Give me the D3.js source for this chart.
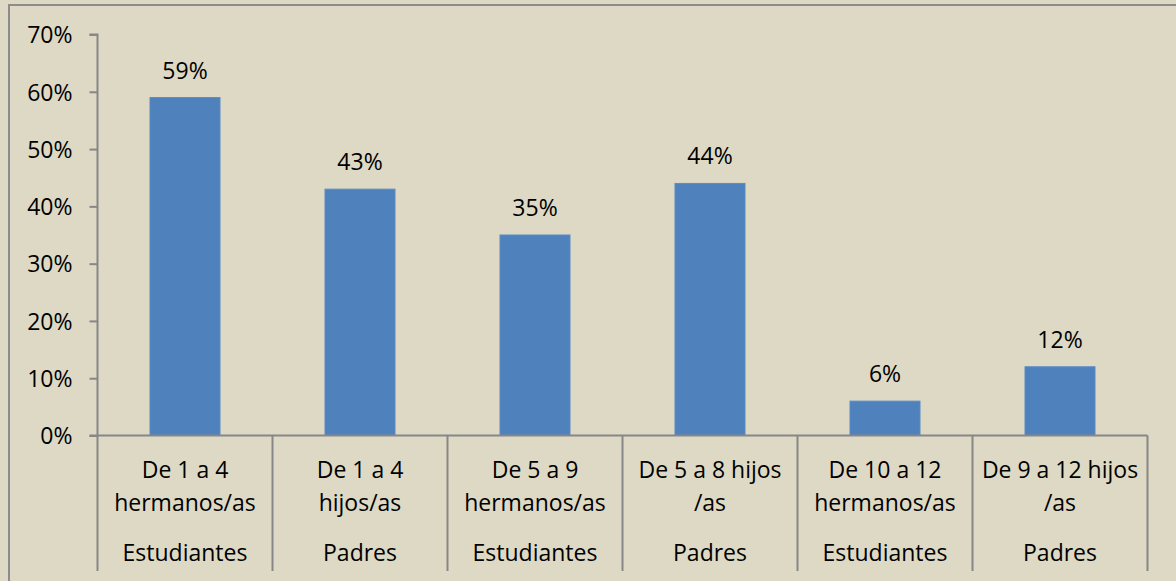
<!DOCTYPE html>
<html><head><meta charset="utf-8">
<script src="https://d3js.org/d3.v7.min.js"></script>
<style>
html,body{margin:0;padding:0;background:#DDD9C4;}
svg{display:block;font-family:"Open Sans", Lato, sans-serif;}
</style></head>
<body><svg id="c" width="1176" height="581"></svg>
<script>
const categories = ["De 1 a 4 hermanos/as","De 1 a 4 hijos/as","De 5 a 9 hermanos/as","De 5 a 8 hijos /as","De 10 a 12 hermanos/as","De 9 a 12 hijos /as"];
const labelLines = [["De 1 a 4","hermanos/as"],["De 1 a 4","hijos/as"],["De 5 a 9","hermanos/as"],["De 5 a 8 hijos","/as"],["De 10 a 12","hermanos/as"],["De 9 a 12 hijos","/as"]];
const groups = ["Estudiantes","Padres","Estudiantes","Padres","Estudiantes","Padres"];
const values = [0.59, 0.43, 0.35, 0.44, 0.06, 0.12];
const yTicks = [0, 0.1, 0.2, 0.3, 0.4, 0.5, 0.6, 0.7];

const svg = d3.select("#c");
const axisColor = "#878787";
const fs = 23;
const ff = "'Open Sans', Lato, sans-serif";

svg.append("rect").attr("x",0).attr("y",0).attr("width",1176).attr("height",581).attr("fill","#DDD9C4");
svg.append("rect").attr("x",9).attr("y",5).attr("width",1300).attr("height",700)
  .attr("fill","none").attr("stroke","#8C8C8C").attr("stroke-width",2);

const x = d3.scaleBand().domain(categories).range([97.5, 1147.5]).paddingInner(0).paddingOuter(0);
const y = d3.scaleLinear().domain([0, 0.7]).range([435.5, 34.5]);

// bars
svg.selectAll("rect.bar").data(values).enter().append("rect")
  .attr("class","bar")
  .attr("x",(d,i)=>x(categories[i]) + x.bandwidth()*0.3)
  .attr("width", x.bandwidth()*0.4)
  .attr("y", d=>y(d))
  .attr("height", d=>y(0)-y(d))
  .attr("fill","#4F81BD")
  .attr("stroke","#5B8CC6").attr("stroke-width",1);

// data labels
svg.selectAll("text.dl").data(values).enter().append("text")
  .attr("class","dl")
  .attr("x",(d,i)=>x(categories[i]) + x.bandwidth()/2)
  .attr("y", d=>y(d) - 19)
  .attr("text-anchor","middle")
  .attr("font-size",fs).attr("fill","#000")
  .text(d=>d3.format(".0%")(d));

// y axis
const yAxis = d3.axisLeft(y).tickValues(yTicks).tickFormat(d3.format(".0%")).tickSize(8).tickPadding(17);
const ga = svg.append("g").attr("transform","translate(97.5,0)").call(yAxis);
ga.select(".domain").attr("stroke",axisColor).attr("stroke-width",2).attr("d","M-8,34.5H0V435.5H-8");
ga.selectAll(".tick line").attr("stroke",axisColor).attr("stroke-width",2);
ga.selectAll(".tick text").attr("font-size",fs).attr("fill","#000").attr("font-family",ff).attr("dy","0.36em");

// x axis baseline
const xAxis = d3.axisBottom(x).tickSize(0).tickFormat("");
const gx = svg.append("g").attr("transform","translate(0,435.5)").call(xAxis);
gx.select(".domain").attr("stroke",axisColor).attr("stroke-width",2).attr("d","M97.5,0H1147.5");

// separators
const bounds = categories.map(c=>x(c)).concat([x(categories[categories.length-1])+x.bandwidth()]);
svg.selectAll("line.sep").data(bounds).enter().append("line")
  .attr("x1",d=>d).attr("x2",d=>d).attr("y1",435.5).attr("y2",571)
  .attr("stroke",axisColor).attr("stroke-width",2);

// category labels
categories.forEach((c,i)=>{
  const cx = x(c) + x.bandwidth()/2;
  labelLines[i].forEach((ln,j)=>{
    svg.append("text").attr("x",cx).attr("y",478 + j*33).attr("text-anchor","middle")
      .attr("font-size",fs).attr("fill","#000").text(ln);
  });
  svg.append("text").attr("x",cx).attr("y",561).attr("text-anchor","middle")
    .attr("font-size",fs).attr("fill","#000").text(groups[i]);
});
</script></body></html>
